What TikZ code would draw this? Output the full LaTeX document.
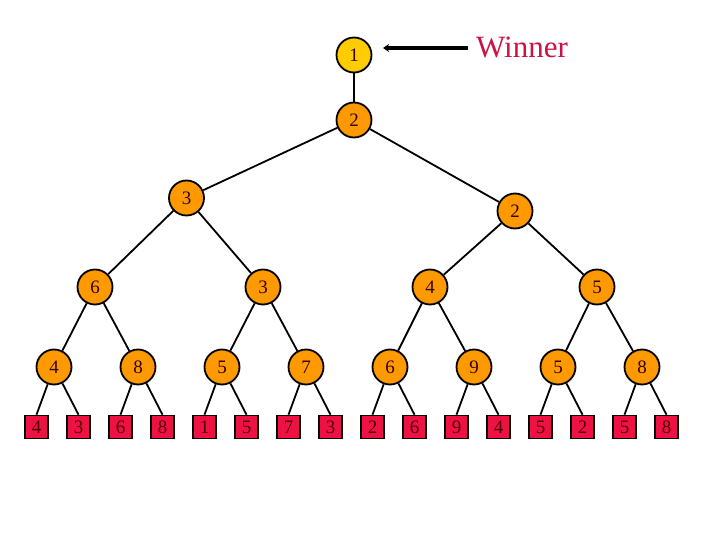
\documentclass[tikz,border=0pt]{standalone}
\usepackage{fontspec}
\setmainfont{Liberation Serif}
\usetikzlibrary{arrows.meta}
\definecolor{gold}{HTML}{FFCC00}
\definecolor{orng}{HTML}{FF9900}
\definecolor{leafred}{HTML}{EE1144}
\definecolor{winred}{HTML}{CC1144}
\begin{document}
\begin{tikzpicture}[x=1pt,y=-1pt,
  inner/.style={circle,draw=black,line width=1.8pt,fill=orng,minimum size=35pt,inner sep=0pt,font=\fontsize{19}{19}\selectfont,text=black!80!red},
  rootnode/.style={inner,fill=gold},
  leaf/.style={rectangle,draw=black,line width=1.6pt,fill=leafred,minimum size=23pt,inner sep=0pt,font=\fontsize{19}{19}\selectfont,text=black!70!red},
  edge/.style={line width=1.8pt}]
\useasboundingbox (0,0) rectangle (720,540);
\node[rootnode] (r) at (354,55) {1};
\node[inner] (a) at (354,120) {2};
\node[inner] (b1) at (186.5,198) {3};
\node[inner] (b2) at (515,211) {2};
\node[inner] (c1) at (95,287) {6};
\node[inner] (c2) at (263,287) {3};
\node[inner] (c3) at (430,287) {4};
\node[inner] (c4) at (597,287) {5};
\foreach \v [count=\i] in {4,8,5,7,6,9,5,8}{
  \node[inner] (d\i) at ({54+84*(\i-1)},367) {\v};
}
\foreach \v [count=\i] in {4,3,6,8,1,5,7,3,2,6,9,4,5,2,5,8}{
  \node[leaf] (e\i) at ({36.5+42*(\i-1)},427) {\v};
}
\draw[edge] (r) -- (a);
\draw[edge] (a) -- (b1);
\draw[edge] (a) -- (b2);
\draw[edge] (b1) -- (c1);
\draw[edge] (b1) -- (c2);
\draw[edge] (b2) -- (c3);
\draw[edge] (b2) -- (c4);
\draw[edge] (c1) -- (d1); \draw[edge] (c1) -- (d2);
\draw[edge] (c2) -- (d3); \draw[edge] (c2) -- (d4);
\draw[edge] (c3) -- (d5); \draw[edge] (c3) -- (d6);
\draw[edge] (c4) -- (d7); \draw[edge] (c4) -- (d8);
\foreach \i in {1,...,8}{
  \pgfmathtruncatemacro{\l}{2*\i-1}
  \pgfmathtruncatemacro{\m}{2*\i}
  \draw[edge] (d\i) -- (e\l.north);
  \draw[edge] (d\i) -- (e\m.north);
}
\node[text=winred,font=\fontsize{31}{31}\selectfont,anchor=west,inner sep=0pt] (w) at (476,47) {Winner};
\coordinate (ws) at (468,48);
\coordinate (we) at (383,48);
\draw[line width=3.3pt,-{Stealth[length=6pt,width=8pt]}] (ws) -- (we);
\end{tikzpicture}
\end{document}
